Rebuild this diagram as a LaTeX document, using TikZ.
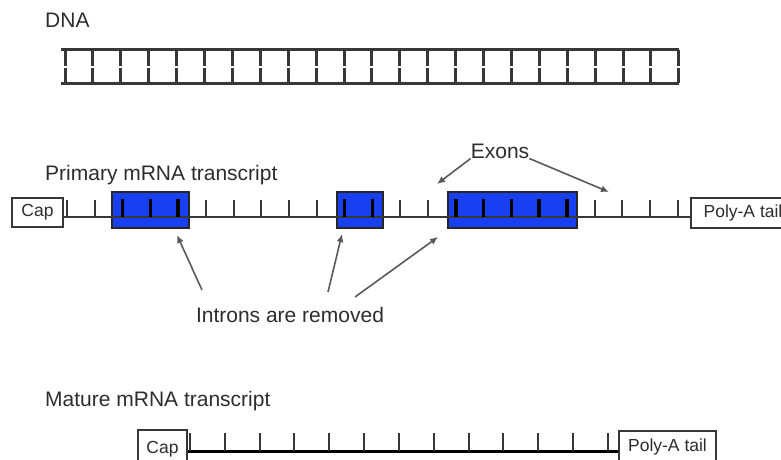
\documentclass[tikz,border=0pt]{standalone}
\usepackage{fontspec}
\setmainfont{Liberation Sans}
\usetikzlibrary{arrows.meta,positioning}

\definecolor{exonblue}{RGB}{24,64,240}
\definecolor{linegray}{RGB}{55,55,55}
\definecolor{textgray}{RGB}{45,45,45}

\tikzset{
  title/.style={inner sep=0pt, text=textgray, font=\fontsize{21}{24}\selectfont},
  endbox/.style={draw=linegray, line width=2pt, fill=white, inner sep=0pt, text=textgray, font=\fontsize{17.5}{20}\selectfont},
  exonbox/.style={draw=black!85, line width=2pt, fill=exonblue, inner sep=0pt, minimum height=36pt},
  tickline/.style={linegray, line width=2pt},
  boldtick/.style={black, line width=3.5pt},
  rung/.style={linegray, line width=3pt},
  arr/.style={-{Latex[length=8pt,width=7pt]}, line width=1.6pt, black!65}
}

\begin{document}
\begin{tikzpicture}[x=1pt, y=-1pt]
\useasboundingbox (0,0) rectangle (781,460);

% DNA
\node[title, anchor=west] (dnalabel) at (45,20) {DNA};
\draw[rung] (61,50) -- (679,50);
\draw[rung] (61,83) -- (679,83);
\foreach \k in {0,...,22} {
  \draw[rung] ({65+27.9*\k},50) -- ({65+27.9*\k},65.5);
  \draw[rung] ({65+27.9*\k},67.5) -- ({65+27.9*\k},83);
}

% Primary mRNA transcript
\node[title, anchor=west] (primlabel) at (45,175) {Primary mRNA transcript};
\node[endbox, minimum width=51pt, minimum height=29pt] (cap1) at (37.5,212.5) {Cap};
\node[endbox, anchor=west, minimum width=104pt, minimum height=30pt, inner xsep=10pt] (poly1) at (690,213) {Poly-A tail};
\node[exonbox, minimum width=77pt] (exon1) at (150.5,210) {};
\node[exonbox, minimum width=46pt] (exon2) at (360,210) {};
\node[exonbox, minimum width=129pt] (exon3) at (512.5,210) {};
\coordinate (base1) at (0,217);
\draw[linegray, line width=2pt] (cap1.east |- base1) -- (poly1.west |- base1);
\foreach \k in {0,...,22}
  \draw[tickline] ({67+27.77*\k},200) -- ({67+27.77*\k},217);
\foreach \k in {2,3,4,10,11,14,15,16,17,18}
  \draw[boldtick] ({67+27.77*\k},199) -- ({67+27.77*\k},217);

% Exons
\node[title] (exons) at (500,151) {Exons};
\coordinate (ex1) at (437,184);
\coordinate (ex2) at (609,192);
\draw[arr] (exons.south west) -- (ex1);
\draw[arr] (exons.south east) -- (ex2);

% Introns are removed
\node[title] (introns) at (290,315) {Introns are removed};
\coordinate (from1) at (202,290);
\coordinate (from2) at (328,292);
\coordinate (from3) at (355,297);
\coordinate (cut1) at (177,235);
\coordinate (cut2) at (342,234);
\coordinate (cut3) at (438,237);
\draw[arr] (from1) -- (cut1);
\draw[arr] (from2) -- (cut2);
\draw[arr] (from3) -- (cut3);

% Mature mRNA transcript
\node[title, anchor=west] (matlabel) at (45,401) {Mature mRNA transcript};
\node[endbox, minimum width=49pt, minimum height=38pt] (cap2) at (162.5,449) {Cap};
\node[endbox, anchor=west, minimum width=97pt, minimum height=32pt] (poly2) at (618,447) {Poly-A tail};
\coordinate (base2) at (0,451);
\draw[black, line width=3pt] (cap2.east |- base2) -- (poly2.west |- base2);
\foreach \k in {0,...,12}
  \draw[tickline] ({190+34.83*\k},433) -- ({190+34.83*\k},451);

\end{tikzpicture}
\end{document}
